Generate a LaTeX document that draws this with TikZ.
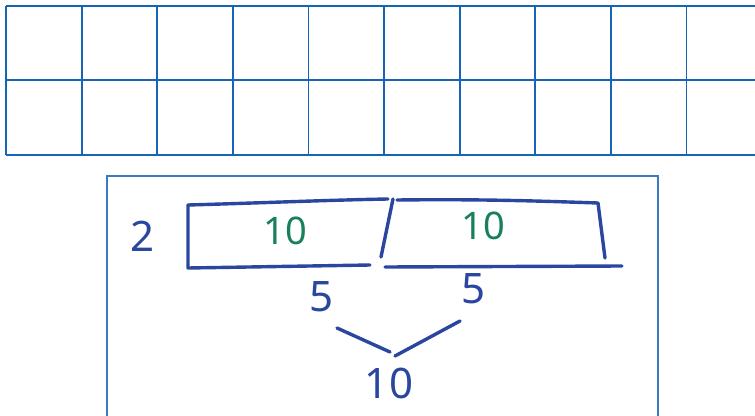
\documentclass[tikz,border=0pt]{standalone}
\usepackage{fontspec}
\setmainfont{Noto Sans}
\definecolor{gridblue}{RGB}{22,100,182}
\definecolor{ink}{RGB}{42,70,158}
\definecolor{inkgreen}{RGB}{24,128,94}
\tikzset{
  gridline/.style={draw=gridblue, line width=1.8pt},
  boxline/.style={draw=gridblue!85, line width=1.4pt},
  pen/.style={draw=ink, line width=3.4pt, line cap=round, line join=round},
  inktext/.style={text=ink, inner sep=0pt, font=\fontsize{42}{42}\selectfont},
  greentext/.style={text=inkgreen, inner sep=0pt, font=\fontsize{38}{38}\selectfont}
}
\begin{document}
\begin{tikzpicture}[x=1pt,y=-1pt]
\useasboundingbox (0,0) rectangle (755,415);
% top grid
\foreach \yy in {6,80,155} \draw[gridline] (6,\yy) -- (756,\yy);
\foreach \i in {0,...,9} \draw[gridline] ({6+75.6*\i},6) -- ({6+75.6*\i},155);
% frame
\draw[boxline] (107,418) -- (107,176) -- (658,176) -- (658,418);
% handwritten tape diagram
\draw[pen] (188,205) -- (188,268) -- (370,265);
\draw[pen] (188,205) .. controls (260,203) and (330,200) .. (388,199);
\draw[pen] (393,199) -- (381,257);
\draw[pen] (397,200) .. controls (480,199) and (540,201) .. (598,203) -- (605,258);
\draw[pen] (385,267) -- (622,266);
% split lines
\coordinate (vl) at (337,328);
\coordinate (vm1) at (390,352);
\coordinate (vm2) at (395,356);
\coordinate (vr) at (460,321);
\draw[pen] (vl) -- (vm1);
\draw[pen] (vm2) -- (vr);
% texts
\node[inktext] (two) at (143,236) {2};
\node[greentext] (tenA) at (285,231) {10};
\node[greentext] (tenB) at (483,226) {10};
\node[inktext] (fiveA) at (322,297) {5};
\node[inktext] (fiveB) at (474,289) {5};
\node[inktext] (ten) at (389,383) {10};
\end{tikzpicture}
\end{document}
